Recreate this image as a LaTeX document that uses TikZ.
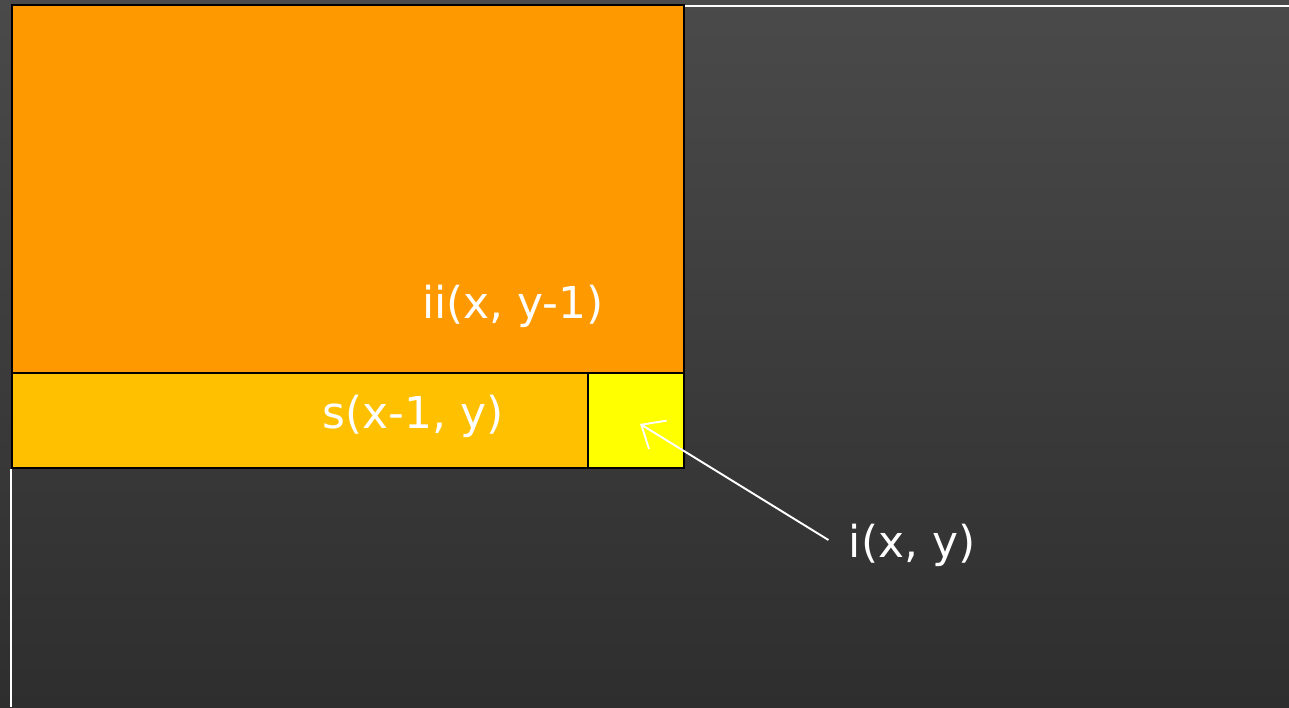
\documentclass[tikz,border=0pt]{standalone}
\usepackage{fontspec}
\setmainfont{DejaVu Sans}
\usetikzlibrary{arrows.meta, positioning}

\definecolor{bgtop}{HTML}{4A4A4A}
\definecolor{bgbot}{HTML}{2E2E2E}
\definecolor{sumorange}{HTML}{FF9900}
\definecolor{rowamber}{HTML}{FFC000}
\definecolor{pixyellow}{HTML}{FFFF00}

\begin{document}
\begin{tikzpicture}[
    cellbox/.style={rectangle,draw=black,line width=1.2pt,inner sep=0pt,
        anchor=south west},
    lbl/.style={text=white,font=\fontsize{25}{30}\selectfont,inner sep=0pt},
    rule/.style={white,line width=1pt},
    arrow/.style={-{Straight Barb[length=11pt,width=19pt]},white,line width=1.1pt}
]
% background
\shade[top color=bgtop,bottom color=bgbot] (0,0) rectangle (25.78,14.14);
\useasboundingbox (0,0) rectangle (25.78,14.14);
% white rules
\coordinate (topl) at (13.66,14.02);
\coordinate (topr) at (25.78,14.02);
\coordinate (lefttop) at (0.22,4.76);
\coordinate (leftbot) at (0.22,0);
\draw[rule] (topl) -- (topr);
\draw[rule] (lefttop) -- (leftbot);
% integral image regions
\node[cellbox,fill=sumorange,minimum width=13.44cm,minimum height=7.36cm]
    (ii) at (0.22,6.66) {};
\node[cellbox,fill=rowamber,minimum width=11.52cm,minimum height=1.90cm]
    (s) at (0.22,4.76) {};
\node[cellbox,fill=pixyellow,minimum width=1.92cm,minimum height=1.90cm]
    (px) at (11.74,4.76) {};
% labels
\node[lbl] (iilbl) at (10.26,8.02) {ii(x, y-1)};
\node[lbl] (slbl) at (8.26,5.82) {s(x-1, y)};
\node[lbl] (ilbl) at (18.24,3.24) {i(x, y)};
\draw[arrow] ([xshift=-0.4cm,yshift=0.1cm]ilbl.west) -- ([shift={(0.08cm,-0.07cm)}]px.center);
\end{tikzpicture}
\end{document}
